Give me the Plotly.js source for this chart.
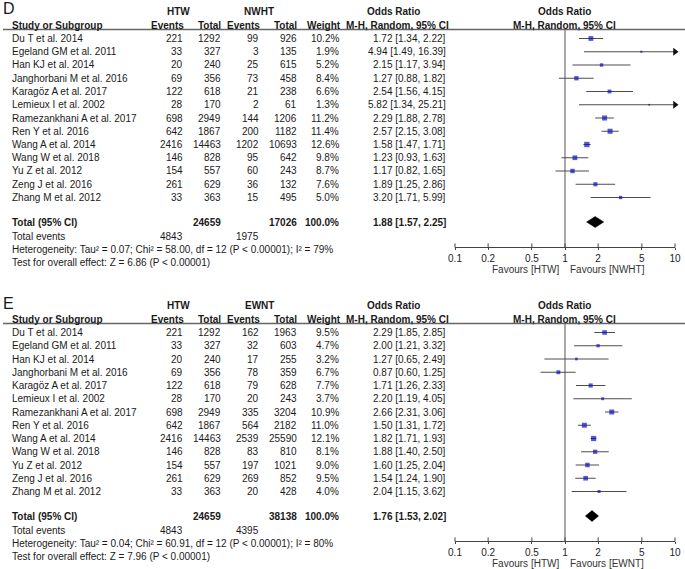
<!DOCTYPE html>
<html><head><meta charset="utf-8">
<script src="https://cdn.plot.ly/plotly-3.0.1.min.js"></script>
<style>html,body{margin:0;padding:0;background:#fff}</style>
</head><body><div id="chart" style="width:685px;height:569px"></div>
<script>
// ---------- DATA ----------
const studies = ["Du T et al. 2014","Egeland GM et al. 2011","Han KJ et al. 2014","Janghorbani M et al. 2016","Karagöz A et al. 2017","Lemieux I et al. 2002","Ramezankhani A et al. 2017","Ren Y et al. 2016","Wang A et al. 2014","Wang W et al. 2018","Yu Z et al. 2012","Zeng J et al. 2016","Zhang M et al. 2012"];
const htwEvents = [221,33,20,69,122,28,698,642,2416,146,154,261,33];
const htwTotal  = [1292,327,240,356,618,170,2949,1867,14463,828,557,629,363];

const nwhtEvents = [99,3,25,73,21,2,144,200,1202,95,60,36,15];
const nwhtTotal  = [926,135,615,458,238,61,1206,1182,10693,642,243,132,495];
const nwhtWeight = [10.2,1.9,5.2,8.4,6.6,1.3,11.2,11.4,12.6,9.8,8.7,7.6,5.0];
const nwhtOR = [1.72,4.94,2.15,1.27,2.54,5.82,2.29,2.57,1.58,1.23,1.17,1.89,3.20];
const nwhtLo = [1.34,1.49,1.17,0.88,1.56,1.34,1.88,2.15,1.47,0.93,0.82,1.25,1.71];
const nwhtHi = [2.22,16.39,3.94,1.82,4.15,25.21,2.78,3.08,1.71,1.63,1.65,2.86,5.99];
const nwhtPooled = [1.88,1.57,2.25];
const nwhtTotals = {htwTotal:24659, ctlTotal:17026, htwEv:4843, ctlEv:1975};
const nwhtHet = "Heterogeneity: Tau² = 0.07; Chi² = 58.00, df = 12 (P < 0.00001); I² = 79%";
const nwhtZ = "Test for overall effect: Z = 6.86 (P < 0.00001)";

const ewntEvents = [162,32,17,78,79,20,335,564,2539,83,197,269,20];
const ewntTotal  = [1963,603,255,359,628,243,3204,2182,25590,810,1021,852,428];
const ewntWeight = [9.5,4.7,3.2,6.7,7.7,3.7,10.9,11.0,12.1,8.1,9.0,9.5,4.0];
const ewntOR = [2.29,2.00,1.27,0.87,1.71,2.20,2.66,1.50,1.82,1.88,1.60,1.54,2.04];
const ewntLo = [1.85,1.21,0.65,0.60,1.26,1.19,2.31,1.31,1.71,1.40,1.25,1.24,1.15];
const ewntHi = [2.85,3.32,2.49,1.25,2.33,4.05,3.06,1.72,1.93,2.50,2.04,1.90,3.62];
const ewntPooled = [1.76,1.53,2.02];
const ewntTotals = {htwTotal:24659, ctlTotal:38138, htwEv:4843, ctlEv:4395};
const ewntHet = "Heterogeneity: Tau² = 0.04; Chi² = 60.91, df = 12 (P < 0.00001); I² = 80%";
const ewntZ = "Test for overall effect: Z = 7.96 (P < 0.00001)";

const tickVals = [0.1,0.2,0.5,1,2,5,10];
const tickText = ["0.1","0.2","0.5","1","2","5","10"];

// ---------- LAYOUT HELPERS ----------
const W = 685, H = 569;
const FONT = "Liberation Sans, Arial, sans-serif";
const TXT = "#1a1a1a";
const ROW0 = 38.5, STEP = 13.25;
const annotations = [], shapes = [], traces = [];
function ann(text, x, y, xanchor, opts) {
  opts = opts || {};
  annotations.push({
    text: opts.bold ? "<b>" + text + "</b>" : text,
    x: x / W, y: 1 - y / H, xref: "paper", yref: "paper",
    xanchor: xanchor, yanchor: "middle", showarrow: false, borderpad: 0,
    font: {family: FONT, size: opts.size || 10, color: opts.color || TXT}
  });
}
const fmt2 = v => v.toFixed(2);

function panel(p) {
  const off = p.off, ax = p.ax;
  const xa = ax === 1 ? "x" : "x" + ax, ya = ax === 1 ? "y" : "y" + ax;
  const HB = 10; // bold header size
  ann(p.letter, 2, off + 9, "left", {size: 16});
  ann("HTW", 178, off + 11.5, "center", {bold: true, size: HB});
  ann(p.ctl, 259, off + 11.5, "center", {bold: true, size: HB});
  ann("Odds Ratio", 393, off + 11.5, "center", {bold: true, size: HB});
  ann("Odds Ratio", 564, off + 11.5, "center", {bold: true, size: HB});
  ann("Study or Subgroup", 11, off + 25, "left", {bold: true, size: HB});
  ann("Events", 185, off + 25, "right", {bold: true, size: HB});
  ann("Total", 222, off + 25, "right", {bold: true, size: HB});
  ann("Events", 261, off + 25, "right", {bold: true, size: HB});
  ann("Total", 298, off + 25, "right", {bold: true, size: HB});
  ann("Weight", 342, off + 25, "right", {bold: true, size: HB});
  ann("M-H, Random, 95% CI", 397, off + 25, "center", {bold: true, size: HB});
  ann("M-H, Random, 95% CI", 564.5, off + 25, "center", {bold: true, size: HB});
  shapes.push({type: "line", xref: "paper", yref: "paper", x0: 3 / W, x1: 1,
    y0: 1 - (off + 29.5) / H, y1: 1 - (off + 29.5) / H, line: {color: "#666", width: 1.5}});
  const rows = studies.map((s, i) => off + ROW0 + STEP * i);
  studies.forEach((s, i) => {
    const y = rows[i];
    ann(s, 11, y, "left");
    ann(String(htwEvents[i]), 184, y, "right");
    ann(String(htwTotal[i]), 222, y, "right");
    ann(String(p.ev[i]), 260, y, "right");
    ann(String(p.tot[i]), 298, y, "right");
    ann(p.w[i].toFixed(1) + "%", 340, y, "right");
    ann(fmt2(p.or[i]) + " [" + fmt2(p.lo[i]) + ", " + fmt2(p.hi[i]) + "]", 447, y, "right");
  });
  const yT = off + 222;
  ann("Total (95% CI)", 11, yT, "left", {bold: true, size: HB});
  ann(String(p.totals.htwTotal), 222, yT, "right", {bold: true, size: HB});
  ann(String(p.totals.ctlTotal), 298, yT, "right", {bold: true, size: HB});
  ann("100.0%", 340, yT, "right", {bold: true, size: HB});
  ann(fmt2(p.pooled[0]) + " [" + fmt2(p.pooled[1]) + ", " + fmt2(p.pooled[2]) + "]", 447, yT, "right", {bold: true, size: HB});
  ann("Total events", 11, off + 236.5, "left");
  ann(String(p.totals.htwEv), 184, off + 236.5, "right");
  ann(String(p.totals.ctlEv), 260, off + 236.5, "right");
  ann(p.het, 11, off + 249.5, "left");
  ann(p.z, 11, off + 262.5, "left");
  ann("Favours [HTW]", 560, off + 269.5, "right", {color: "#333"});
  ann("Favours [" + p.ctl + "]", 569, off + 269.5, "left", {color: "#333"});

  traces.push({type: "scatter", mode: "lines", xaxis: xa, yaxis: ya, x: [1, 1], y: [off + 29.5, off + 247],
    line: {color: "#555", width: 1}, hoverinfo: "skip", cliponaxis: false});
  const cx = [], cy = [];
  p.or.forEach((v, i) => { cx.push(p.lo[i], Math.min(p.hi[i], 10), null); cy.push(rows[i], rows[i], null); });
  traces.push({type: "scatter", mode: "lines", xaxis: xa, yaxis: ya, x: cx, y: cy,
    line: {color: "#4d4d4d", width: 1}, hoverinfo: "skip", cliponaxis: false});
  const axx = [], axy = [];
  p.hi.forEach((h, i) => { if (h > 10) { axx.push(10); axy.push(rows[i]); } });
  if (axx.length) traces.push({type: "scatter", mode: "markers", xaxis: xa, yaxis: ya, x: axx, y: axy,
    marker: {symbol: "triangle-right", size: 7, color: "#111"}, hoverinfo: "skip", cliponaxis: false});
  traces.push({type: "scatter", mode: "markers", xaxis: xa, yaxis: ya, x: p.or, y: rows,
    marker: {symbol: "square", size: p.w.map(w => 1.5 * Math.sqrt(w)), color: "#1010c0", line: {width: 0}},
    hoverinfo: "skip", cliponaxis: false});
  const pl = p.pooled;
  traces.push({type: "scatter", mode: "lines", xaxis: xa, yaxis: ya,
    x: [pl[1], pl[0], pl[2], pl[0], pl[1]], y: [yT, yT - 5.5, yT, yT + 5.5, yT],
    fill: "toself", fillcolor: "#000", line: {color: "#000", width: 0.5}, hoverinfo: "skip", cliponaxis: false});
  traces.push({type: "scatter", mode: "markers", xaxis: xa, yaxis: ya, x: tickVals, y: tickVals.map(() => off + 245.5),
    marker: {symbol: "line-ns", size: 3, line: {color: "#444", width: 1}}, hoverinfo: "skip", cliponaxis: false});
}

panel({off: 0, ax: 1, letter: "D", ctl: "NWHT", ev: nwhtEvents, tot: nwhtTotal, w: nwhtWeight,
  or: nwhtOR, lo: nwhtLo, hi: nwhtHi, pooled: nwhtPooled, totals: nwhtTotals, het: nwhtHet, z: nwhtZ});
panel({off: 294, ax: 2, letter: "E", ctl: "EWNT", ev: ewntEvents, tot: ewntTotal, w: ewntWeight,
  or: ewntOR, lo: ewntLo, hi: ewntHi, pooled: ewntPooled, totals: ewntTotals, het: ewntHet, z: ewntZ});

function xAxis(anchor) {
  return {type: "log", range: [-1, 1], domain: [455 / W, 675 / W], anchor: anchor,
    tickvals: tickVals, ticktext: tickText, ticks: "outside", ticklen: 2, tickwidth: 1, tickcolor: "#444",
    showline: true, linecolor: "#444", linewidth: 1, showgrid: false, zeroline: false,
    tickfont: {family: FONT, size: 10, color: "#222"}, fixedrange: true};
}
function yAxis(off) {
  return {range: [off + 247, off + 29.5], domain: [1 - (off + 247) / H, 1 - (off + 29.5) / H],
    visible: false, showgrid: false, zeroline: false, fixedrange: true};
}
const layout = {
  width: W, height: H, margin: {l: 0, r: 0, t: 0, b: 0},
  paper_bgcolor: "#fff", plot_bgcolor: "rgba(0,0,0,0)", showlegend: false,
  font: {family: FONT, size: 10, color: TXT},
  xaxis: xAxis("y"), yaxis: yAxis(0),
  xaxis2: xAxis("y2"), yaxis2: yAxis(294),
  annotations: annotations, shapes: shapes
};
Plotly.newPlot("chart", traces, layout, {displayModeBar: false, staticPlot: true});
</script></body></html>
